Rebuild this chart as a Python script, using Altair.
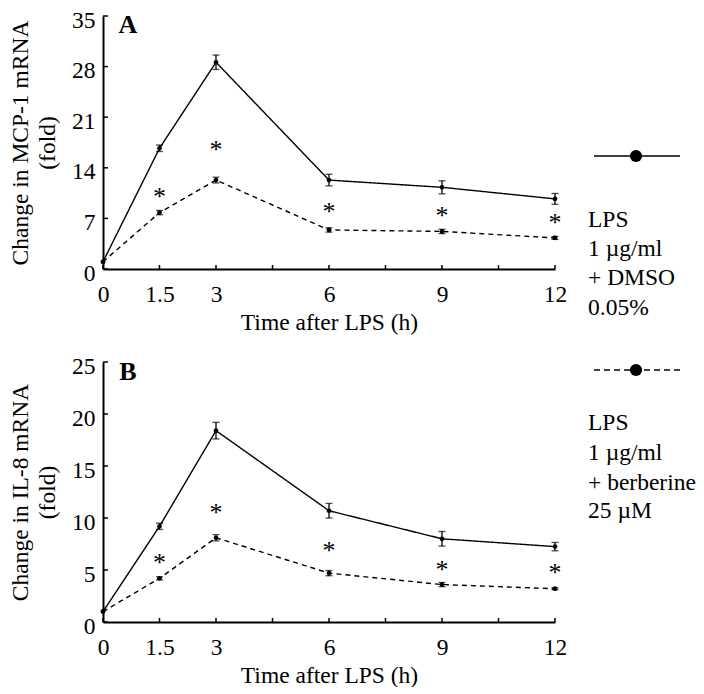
import altair as alt
import pandas as pd

FONT = "'Liberation Serif', 'Times New Roman', serif"
FS = 23.5

times = [0, 1.5, 3, 6, 9, 12]
star_times = [1.5, 3, 6, 9, 12]
tick_times = [0, 1.5, 3, 4.5, 6, 7.5, 9, 10.5, 12]

# Panel A: MCP-1
a_dmso = [1.0, 16.7, 28.6, 12.3, 11.3, 9.7]
a_dmso_err = [0.0, 0.45, 1.0, 0.8, 0.9, 0.75]
a_berb = [1.0, 7.8, 12.3, 5.4, 5.2, 4.3]
a_berb_err = [0.0, 0.3, 0.4, 0.3, 0.3, 0.2]
a_stars = [10.2, 16.7, 8.2, 7.6, 6.7]

# Panel B: IL-8
b_dmso = [1.0, 9.2, 18.4, 10.7, 8.0, 7.25]
b_dmso_err = [0.0, 0.3, 0.8, 0.7, 0.7, 0.4]
b_berb = [1.0, 4.2, 8.1, 4.7, 3.6, 3.2]
b_berb_err = [0.0, 0.15, 0.3, 0.25, 0.2, 0.1]
b_stars = [5.9, 10.7, 7.0, 5.2, 4.9]

legend_dmso = ["LPS", "1 \u00b5g/ml", "+ DMSO", "0.05%"]
legend_berb = ["LPS", "1 \u00b5g/ml", "+ berberine", "25 \u00b5M"]

W = 452


def series_df(vals, errs):
    return pd.DataFrame({
        "t": times, "v": vals,
        "lo": [v - e for v, e in zip(vals, errs)],
        "hi": [v + e for v, e in zip(vals, errs)],
        "e": errs,
    })


def panel(dmso, dmso_err, berb, berb_err, stars, ymax, ystep, ytitle,
          letter, letter_y, legend_lines, legend_dashed, leg_line_y, leg_text_y, H):
    xs = alt.Scale(domain=[0, 12], nice=False)
    ys = alt.Scale(domain=[0, ymax], nice=False)
    xax = alt.Axis(values=[0, 1.5, 3, 6, 9, 12], labelExpr="'' + datum.value",
                   title="Time after LPS (h)", ticks=False, grid=False,
                   labelFlush=False, labelPadding=13, titlePadding=5)
    yax = alt.Axis(values=list(range(0, ymax + 1, ystep)), title=ytitle,
                   ticks=False, grid=False, labelPadding=8, labelOffset=4,
                   labelFlush=False, titlePadding=12, titleLineHeight=27)
    X = lambda f: alt.X(f, scale=xs, axis=xax)
    Y = lambda f: alt.Y(f, scale=ys, axis=yax)
    layers = []
    for vals, errs, dash in [(dmso, dmso_err, [1, 0]), (berb, berb_err, [5, 4])]:
        df = series_df(vals, errs)
        base = alt.Chart(df)
        line = base.mark_line(color="black", strokeWidth=1.4, strokeDash=dash).encode(
            x=X("t:Q"), y=Y("v:Q"))
        pts = base.mark_circle(color="black", opacity=1, size=22).encode(
            x=X("t:Q"), y=Y("v:Q"))
        eb = base.transform_filter("datum.e > 0").mark_errorbar(
            color="black", ticks={"size": 7, "thickness": 1.3}, thickness=1.3
        ).encode(x=X("t:Q"), y=Y("lo:Q"), y2="hi:Q")
        layers += [line, eb, pts]
    sdf = pd.DataFrame({"t": star_times, "v": stars, "txt": ["*"] * len(stars)})
    st = alt.Chart(sdf).mark_text(font=FONT, fontSize=26, baseline="alphabetic", dy=10,
                                  color="black").encode(
        x=X("t:Q"), y=Y("v:Q"), text="txt:N")
    layers.append(st)
    # inward ticks
    xt = alt.Chart(pd.DataFrame({"t": tick_times})).mark_rule(color="black", strokeWidth=1.5).encode(
        x=X("t:Q"), y=alt.value(H), y2=alt.value(H - 4))
    yt = alt.Chart(pd.DataFrame({"v": list(range(0, ymax + 1, ystep))})).mark_rule(
        color="black", strokeWidth=1.5).encode(
        y=Y("v:Q"), x=alt.value(0), x2=alt.value(5))
    layers += [xt, yt]
    # panel letter
    lt = alt.Chart(pd.DataFrame({"l": [letter]})).mark_text(
        font=FONT, fontSize=26, fontWeight="bold", color="black", align="center",
        baseline="middle").encode(text="l:N", x=alt.value(25), y=alt.value(letter_y))
    layers.append(lt)
    # legend
    ldf = pd.DataFrame({"k": [0]})
    lr = alt.Chart(ldf).mark_rule(color="black", strokeWidth=1.6,
                                  strokeDash=[6, 4] if legend_dashed else [1, 0]).encode(
        x=alt.value(491), x2=alt.value(577), y=alt.value(leg_line_y))
    ld = alt.Chart(ldf).mark_circle(color="black", opacity=1, size=150).encode(
        x=alt.value(533), y=alt.value(leg_line_y))
    layers += [lr, ld]
    for i, s in enumerate(legend_lines):
        layers.append(alt.Chart(pd.DataFrame({"s": [s]})).mark_text(
            font=FONT, fontSize=FS, color="black", align="left", baseline="middle").encode(
            text="s:N", x=alt.value(485), y=alt.value(leg_text_y[i])))
    return alt.layer(*layers).properties(width=W, height=H)


pa = panel(a_dmso, a_dmso_err, a_berb, a_berb_err, a_stars, 35, 7,
           ["Change in MCP-1 mRNA", "(fold)"], "A", 9, legend_dmso, False,
           140, [204, 233, 262, 292], 253)
pb = panel(b_dmso, b_dmso_err, b_berb, b_berb_err, b_stars, 25, 5,
           ["Change in IL-8  mRNA", "(fold)"], "B", 10, legend_berb, True,
           8, [61, 91, 121, 149], 260)

chart = alt.vconcat(pa, pb, spacing=20).properties(
    padding={"top": 0, "left": 0, "right": 0, "bottom": 0}).configure_view(
    stroke=None).configure_axis(
    labelFont=FONT, titleFont=FONT, labelFontSize=FS, titleFontSize=FS,
    titleFontWeight="normal", labelColor="black", titleColor="black",
    domainColor="black", domainWidth=2,
).configure_text(font=FONT)

chart.save("out.html", embed_options={"renderer": "svg", "actions": False})
